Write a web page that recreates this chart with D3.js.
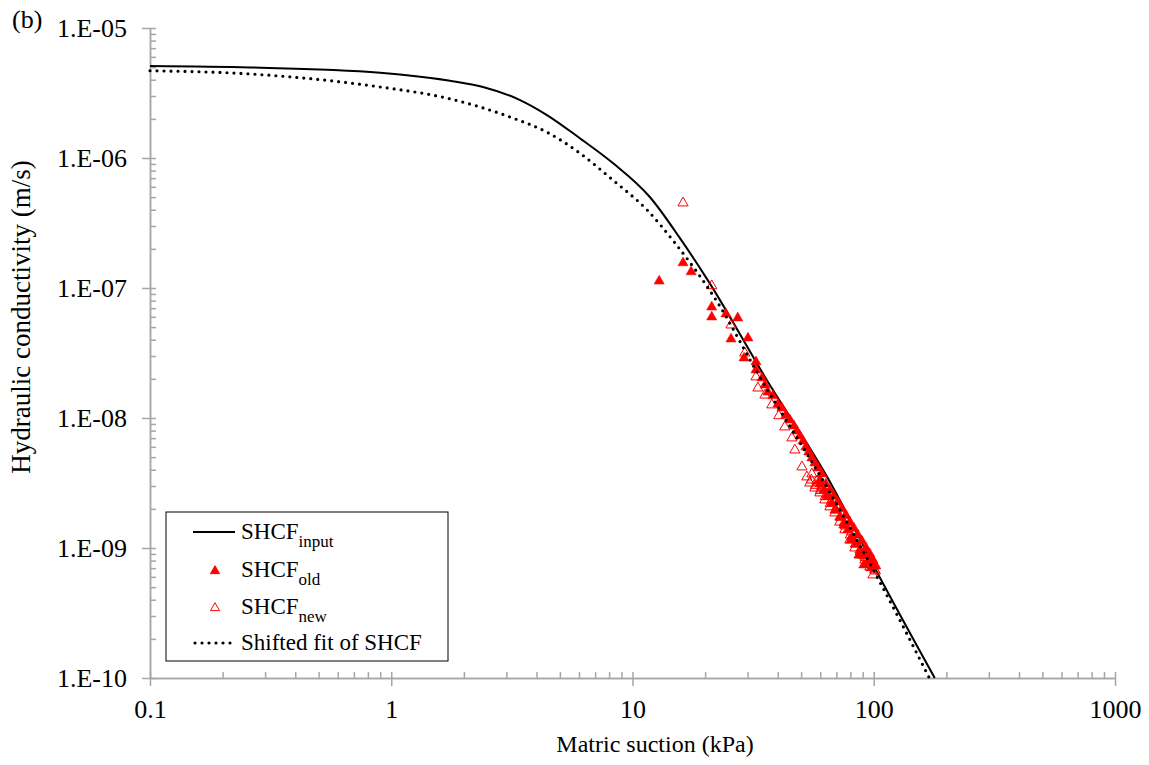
<!DOCTYPE html>
<html><head><meta charset="utf-8">
<script src="https://cdn.jsdelivr.net/npm/d3@7"></script>
<style>
body{margin:0;background:#fff}
text{font-family:"Liberation Serif","Times New Roman",serif;fill:#000}
</style>
</head><body><svg id="c" width="1149" height="765"></svg>
<script>
// ---------- data ----------
const xTickValues = [0.1, 1, 10, 100, 1000];
const xTickLabels = ["0.1", "1", "10", "100", "1000"];
const yTickValues = [1e-10, 1e-9, 1e-8, 1e-7, 1e-6, 1e-5];
const yTickLabels = ["1.E-10", "1.E-09", "1.E-08", "1.E-07", "1.E-06", "1.E-05"];

// SHCF input curve (suction kPa, K m/s)
const inputSuction = [0.1, 0.26, 0.9, 1.75, 2.4, 3.42, 4.42, 6.05, 8.29, 11.8, 15.7, 20.5, 35.4, 67.7, 101, 179];
const inputK = [5.1e-6, 4.97e-6, 4.53e-6, 3.93e-6, 3.52e-6, 2.79e-6, 2.14e-6, 1.42e-6, 9.15e-7, 5.01e-7, 2.43e-7, 1.15e-7, 2.07e-8, 2.94e-9, 7.02e-10, 1e-10];

// Shifted fit of SHCF
const shiftedSuction = [0.1, 0.26, 0.898, 1.70, 2.33, 3.19, 4.42, 6.05, 8.29, 11.5, 15.0, 22.6, 32.8, 63.9, 106, 170];
const shiftedK = [4.69e-6, 4.43e-6, 3.52e-6, 2.89e-6, 2.47e-6, 2.03e-6, 1.58e-6, 1.09e-6, 6.77e-7, 3.98e-7, 2.22e-7, 7.66e-8, 2.26e-8, 2.94e-9, 5.47e-10, 1e-10];

// SHCF old (filled triangles)
const oldSuction = [12.9, 16.2, 17.5, 21.3, 21.3, 24.4, 27.3, 25.6, 30.1, 29.0, 32.5, 32.5, 34.4, 35.4, 36.4, 38.2, 40.1, 41.6, 43.2, 44.9, 46.7, 48.0, 49.4, 50.9, 52.3, 53.8, 55.4, 57.0, 58.7, 60.9, 63.3, 65.8, 68.3, 71.0, 73.8, 76.6, 79.6, 82.7, 85.9, 89.3, 92.8, 96.3, 99.2, 102,
  59.8, 62.1, 64.5, 67.1, 69.7, 72.3, 75.2, 78.1, 81.1, 84.3, 87.6, 91.0, 94.5, 97.3,
  59.8, 64.5, 69.7, 75.2, 80.4, 86.8, 91.0];
const oldK = [1.13e-7, 1.56e-7, 1.33e-7, 7.14e-8, 5.98e-8, 6.31e-8, 5.88e-8, 4.05e-8, 4.12e-8, 2.89e-8, 2.70e-8, 2.34e-8, 2.03e-8, 1.79e-8, 1.58e-8, 1.48e-8, 1.28e-8, 1.19e-8, 1.05e-8, 9.65e-9, 8.68e-9, 7.94e-9, 7.27e-9, 6.65e-9, 5.98e-9, 5.48e-9, 4.92e-9, 4.51e-9, 4.12e-9, 3.71e-9, 3.11e-9, 2.79e-9, 2.51e-9, 2.26e-9, 2.00e-9, 1.79e-9, 1.58e-9, 1.42e-9, 1.26e-9, 1.13e-9, 1.0e-9, 8.99e-10, 8.09e-10, 7.27e-10,
  3.11e-9, 2.79e-9, 2.47e-9, 2.22e-9, 1.96e-9, 1.73e-9, 1.56e-9, 1.38e-9, 1.22e-9, 1.07e-9, 9.65e-10, 8.68e-10, 7.80e-10, 7.02e-10,
  3.33e-9, 2.56e-9, 1.96e-9, 1.50e-9, 1.15e-9, 8.83e-10, 7.40e-10];

// SHCF new (open triangles)
const newSuction = [16.2, 21.3, 25.6, 29.2, 32.5, 33.1, 35.4, 37.8, 40.4, 42.8, 45.8, 47.1, 50.4, 52.8, 54.3, 57.0, 59.8, 62.7, 65.8, 69.0, 72.3, 75.9, 79.6, 83.5, 87.6, 91.9, 96.3, 99.2,
  55.4, 58.1, 60.9, 63.9, 67.1, 70.3, 73.8, 77.4, 81.1, 85.1, 89.3, 93.6, 97.3, 101,
  55.1, 57.3, 60.1, 63.0, 66.1, 69.3, 72.7, 76.3, 80.0, 83.9, 88.0, 92.3, 96.8, 101.5];
const newK = [4.51e-7, 1.04e-7, 5.19e-8, 3.16e-8, 2.07e-8, 1.70e-8, 1.50e-8, 1.26e-8, 1.04e-8, 8.53e-9, 7.02e-9, 5.67e-9, 4.20e-9, 3.52e-9, 3.16e-9, 2.89e-9, 2.65e-9, 2.34e-9, 2.07e-9, 1.86e-9, 1.58e-9, 1.38e-9, 1.15e-9, 1.0e-9, 8.83e-10, 8.09e-10, 7.14e-10, 6.20e-10,
  3.71e-9, 3.28e-9, 2.94e-9, 2.60e-9, 2.34e-9, 2.07e-9, 1.79e-9, 1.56e-9, 1.33e-9, 1.15e-9, 1.0e-9, 8.83e-10, 7.80e-10, 6.77e-10,
  3.33e-9, 3.03e-9, 2.77e-9, 2.49e-9, 2.20e-9, 1.96e-9, 1.72e-9, 1.48e-9, 1.26e-9, 1.07e-9, 9.40e-10, 8.45e-10, 7.60e-10, 6.65e-10];

// ---------- drawing ----------
const svg = d3.select("#c");
const x = d3.scaleLog().domain([0.1, 1000]).range([150, 1115]);
const y = d3.scaleLog().domain([1e-10, 1e-5]).range([678, 28]);
const axisColor = "#a6a6a6";

function styleAxis(g){
  g.select(".domain").attr("stroke", axisColor).attr("stroke-width", 1.5);
  g.selectAll(".tick line").attr("stroke", axisColor).attr("stroke-width", 1.5);
  g.selectAll(".tick text").attr("font-family", '"Liberation Serif", serif').attr("font-size", 26).attr("fill", "#000");
}

// inner minor+major ticks
svg.append("g").attr("transform", "translate(150,0)")
  .call(d3.axisRight(y).tickValues(y.ticks()).tickSize(6).tickSizeOuter(0).tickFormat(""))
  .call(styleAxis);
svg.append("g").attr("transform", "translate(0,678)")
  .call(d3.axisTop(x).tickValues(x.ticks()).tickSize(6).tickSizeOuter(0).tickFormat(""))
  .call(styleAxis);
// outer major ticks with labels
svg.append("g").attr("transform", "translate(150,0)")
  .call(d3.axisLeft(y).tickValues(yTickValues).tickSize(8).tickSizeOuter(0).tickPadding(15)
        .tickFormat((d, i) => yTickLabels[i]))
  .call(styleAxis);
svg.append("g").attr("transform", "translate(0,678)")
  .call(d3.axisBottom(x).tickValues(xTickValues).tickSize(8).tickSizeOuter(0).tickPadding(14)
        .tickFormat((d, i) => xTickLabels[i]))
  .call(styleAxis);

// curves
const line = d3.line().x(d => x(d[0])).y(d => y(d[1])).curve(d3.curveMonotoneX);
const inputData = inputSuction.map((s, i) => [s, inputK[i]]);
const shiftedData = shiftedSuction.map((s, i) => [s, shiftedK[i]]);
svg.append("path").datum(inputData).attr("d", line)
  .attr("fill", "none").attr("stroke", "#000").attr("stroke-width", 2);

const tri = d3.symbol().type(d3.symbolTriangle).size(45);
svg.append("g").selectAll("path").data(oldSuction.map((s, i) => [s, oldK[i]])).join("path")
  .attr("d", tri).attr("transform", d => `translate(${x(d[0])},${y(d[1])})`)
  .attr("fill", "#ff0000").attr("stroke", "#ff0000").attr("stroke-width", 0.5);
svg.append("g").selectAll("path").data(newSuction.map((s, i) => [s, newK[i]])).join("path")
  .attr("d", tri).attr("transform", d => `translate(${x(d[0])},${y(d[1])})`)
  .attr("fill", "none").attr("stroke", "#ff0000").attr("stroke-width", 1);

svg.append("path").datum(shiftedData).attr("d", line)
  .attr("fill", "none").attr("stroke", "#000").attr("stroke-width", 3.2)
  .attr("stroke-linecap", "round").attr("stroke-dasharray", "0 7");

// axis titles
svg.append("text").attr("x", 655).attr("y", 752).attr("text-anchor", "middle")
  .attr("font-size", 24).text("Matric suction (kPa)");
svg.append("text").attr("transform", "translate(30,317) rotate(-90)").attr("text-anchor", "middle")
  .attr("font-size", 27).text("Hydraulic conductivity (m/s)");
svg.append("text").attr("x", 12).attr("y", 28).attr("font-size", 26).text("(b)");

// legend
const lg = svg.append("g");
lg.append("rect").attr("x", 166).attr("y", 512).attr("width", 282).attr("height", 149)
  .attr("fill", "#fff").attr("stroke", "#000").attr("stroke-width", 1);
const rows = [
  {type: "line", cy: 532, main: "SHCF", sub: "input"},
  {type: "old", cy: 570, main: "SHCF", sub: "old"},
  {type: "new", cy: 607, main: "SHCF", sub: "new"},
  {type: "dot", cy: 643, main: "Shifted fit of SHCF", sub: null}
];
rows.forEach(r => {
  if (r.type === "line") {
    lg.append("line").attr("x1", 193).attr("x2", 235).attr("y1", r.cy).attr("y2", r.cy)
      .attr("stroke", "#000").attr("stroke-width", 2);
  } else if (r.type === "dot") {
    lg.append("line").attr("x1", 195).attr("x2", 235).attr("y1", r.cy).attr("y2", r.cy)
      .attr("stroke", "#000").attr("stroke-width", 3.2).attr("stroke-linecap", "round").attr("stroke-dasharray", "0 7");
  } else {
    lg.append("path").attr("d", d3.symbol().type(d3.symbolTriangle).size(36))
      .attr("transform", `translate(215,${r.cy + 1})`)
      .attr("fill", r.type === "old" ? "#ff0000" : "none")
      .attr("stroke", "#ff0000").attr("stroke-width", 1);
  }
  const t = lg.append("text").attr("x", 241).attr("y", r.cy + 7).attr("font-size", 23);
  t.append("tspan").text(r.main);
  if (r.sub) t.append("tspan").attr("dy", 8).attr("font-size", 17).text(r.sub);
});
</script>
</body></html>
